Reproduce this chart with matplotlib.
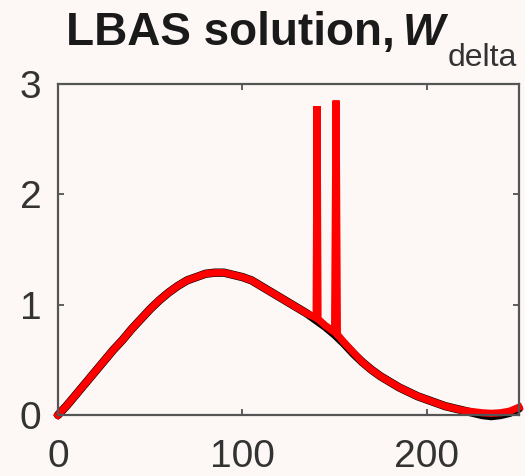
import matplotlib
matplotlib.use('Agg')
import matplotlib.pyplot as plt

# reference solution (black)
x_ref = [0, 5, 10, 15, 20, 25, 30, 35, 40, 45, 50, 55, 60, 65, 70, 75, 80, 85, 90, 95,
         100, 105, 110, 115, 120, 125, 130, 135, 140, 145, 150, 155, 160, 165, 170, 175,
         180, 185, 190, 195, 200, 205, 210, 215, 220, 225, 230, 235, 240, 245, 250]
w_ref = [0.00, 0.09, 0.19, 0.29, 0.39, 0.49, 0.59, 0.68, 0.78, 0.87, 0.96, 1.04, 1.11, 1.17,
         1.22, 1.25, 1.28, 1.29, 1.29, 1.27, 1.25, 1.22, 1.17, 1.12, 1.07, 1.02, 0.97, 0.92,
         0.86, 0.80, 0.73, 0.65, 0.56, 0.48, 0.41, 0.35, 0.30, 0.25, 0.21, 0.17, 0.14, 0.11,
         0.08, 0.06, 0.04, 0.02, 0.00, -0.01, 0.00, 0.02, 0.06]

# LBAS solution (red), with the two spikes
x_lbas = [0, 5, 10, 15, 20, 25, 30, 35, 40, 45, 50, 55, 60, 65, 70, 75, 80, 85, 90, 95,
          100, 105, 110, 115, 120, 125, 130, 135, 140, 140.5, 141, 145, 150, 150.8, 151.5,
          155, 160, 165, 170, 175, 180, 185, 190, 195, 200, 205, 210, 215, 220, 225, 230,
          235, 240, 245, 250]
w_lbas = [0.00, 0.09, 0.19, 0.29, 0.39, 0.49, 0.59, 0.68, 0.78, 0.87, 0.96, 1.04, 1.11, 1.17,
          1.22, 1.25, 1.28, 1.29, 1.29, 1.27, 1.25, 1.22, 1.17, 1.12, 1.07, 1.02, 0.97, 0.92,
          0.88, 2.80, 0.87, 0.81, 0.75, 2.85, 0.73, 0.66, 0.57, 0.48, 0.41, 0.35, 0.30, 0.25,
          0.21, 0.17, 0.14, 0.11, 0.08, 0.06, 0.04, 0.03, 0.02, 0.015, 0.02, 0.035, 0.07]

x_ticks = [0, 100, 200]
y_ticks = [0, 1, 2, 3]

bg = '#fdf8f5'
fig = plt.figure(figsize=(5.25, 4.76), dpi=100, facecolor=bg)
ax = fig.add_axes([58/525, 61/476, 461/525, 331/476], facecolor=bg)

ax.plot(x_ref, w_ref, color='black', lw=6, solid_capstyle='round', clip_on=False)
ax.plot(x_lbas, w_lbas, color='#ff0000', lw=5.2, solid_joinstyle='miter', clip_on=False)

ax.set_xlim(0, 250)
ax.set_ylim(0, 3)
ax.set_xticks(x_ticks)
ax.set_yticks(y_ticks)
ax.tick_params(direction='in', length=4, width=1.2, color='#444444', labelsize=28,
               labelcolor='#333333', top=True, right=True, labelfontfamily='Liberation Sans')
ax.tick_params(axis='x', pad=17)
ax.tick_params(axis='y', pad=12)
for s in ax.spines.values():
    s.set_color('#555555')
    s.set_linewidth(1.6)

# title in three pieces (MATLAB-like big subscript drop)
fig.text(66/525, (476-45)/476, 'LBAS solution,', fontsize=33, fontweight='bold',
         family='Liberation Sans', color='#1a1a1a', ha='left', va='baseline')
fig.text(403/525, (476-45)/476, 'W', fontsize=32, fontweight='bold', fontstyle='italic',
         family='Liberation Sans', color='#1a1a1a', ha='left', va='baseline')
fig.text(448/525, (476-66)/476, 'delta', fontsize=23, family='Liberation Sans',
         color='#333333', ha='left', va='baseline')

plt.savefig('out.png', dpi=100, facecolor=bg)
